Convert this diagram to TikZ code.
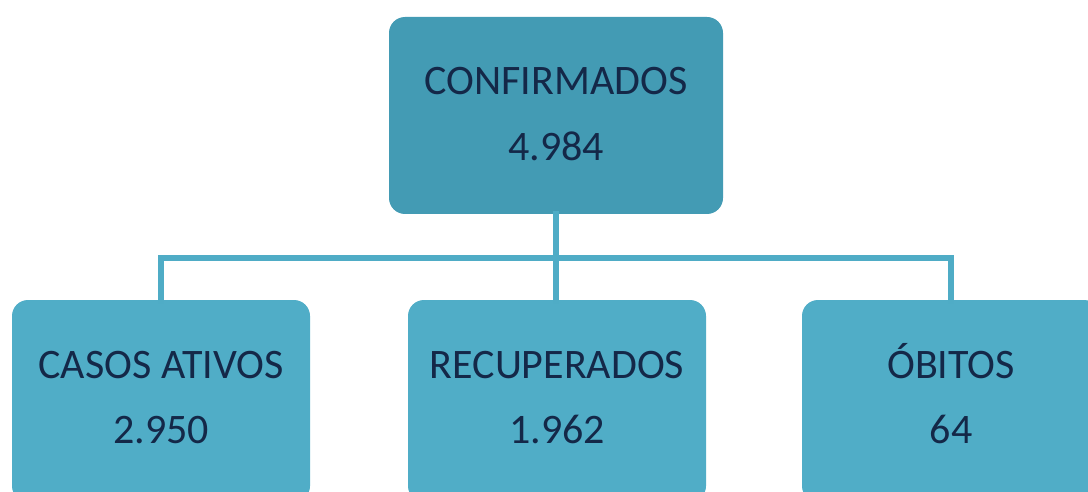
\documentclass[tikz,border=0pt]{standalone}
\usepackage{fontspec}
\setmainfont{Carlito}
\definecolor{topfill}{RGB}{67,155,180}
\definecolor{subfill}{RGB}{80,173,199}
\definecolor{linkcol}{RGB}{79,172,198}
\definecolor{txtcol}{RGB}{20,40,72}
\begin{document}
\begin{tikzpicture}[x=1pt,y=-1pt,
  box/.style={draw=none, rounded corners=16pt, minimum width=334pt, minimum height=197pt, inner sep=0pt, outer sep=0pt},
  subbox/.style={box, fill=subfill, minimum width=298pt, minimum height=202pt},
  lbl/.style={anchor=base, text=txtcol, font=\fontsize{42}{42}\selectfont, inner sep=0pt},
  link/.style={draw=linkcol, line width=5.5pt}]
\useasboundingbox (0,0) rectangle (1088,492);
\clip (0,0) rectangle (1088,492);
\node[box, fill=topfill] (conf) at (556,115.5) {};
\node[subbox] (casos) at (161,401) {};
\node[subbox] (recu) at (557,401) {};
\node[subbox] (obit) at (951,401) {};
\node[lbl] (t1) at (556,95) {CONFIRMADOS};
\node[lbl] (n1) at (556,161) {4.984};
\node[lbl] (t2) at (161,378) {CASOS ATIVOS};
\node[lbl] (n2) at (161,443) {2.950};
\node[lbl] (t3) at (557,378) {RECUPERADOS};
\node[lbl] (n3) at (557,443) {1.962};
\node[lbl] (t4) at (951,378) {ÓBITOS};
\node[lbl] (n4) at (951,443) {64};
\coordinate (hub) at (556,258);
\draw[link] ([yshift=3pt]conf.south) -- (hub);
\draw[link] (hub) -| ([yshift=-4pt]casos.north);
\draw[link] (hub) -| ([yshift=-4pt]obit.north);
\draw[link] (hub) -- ([yshift=-4pt]recu.north -| hub);
\end{tikzpicture}
\end{document}
